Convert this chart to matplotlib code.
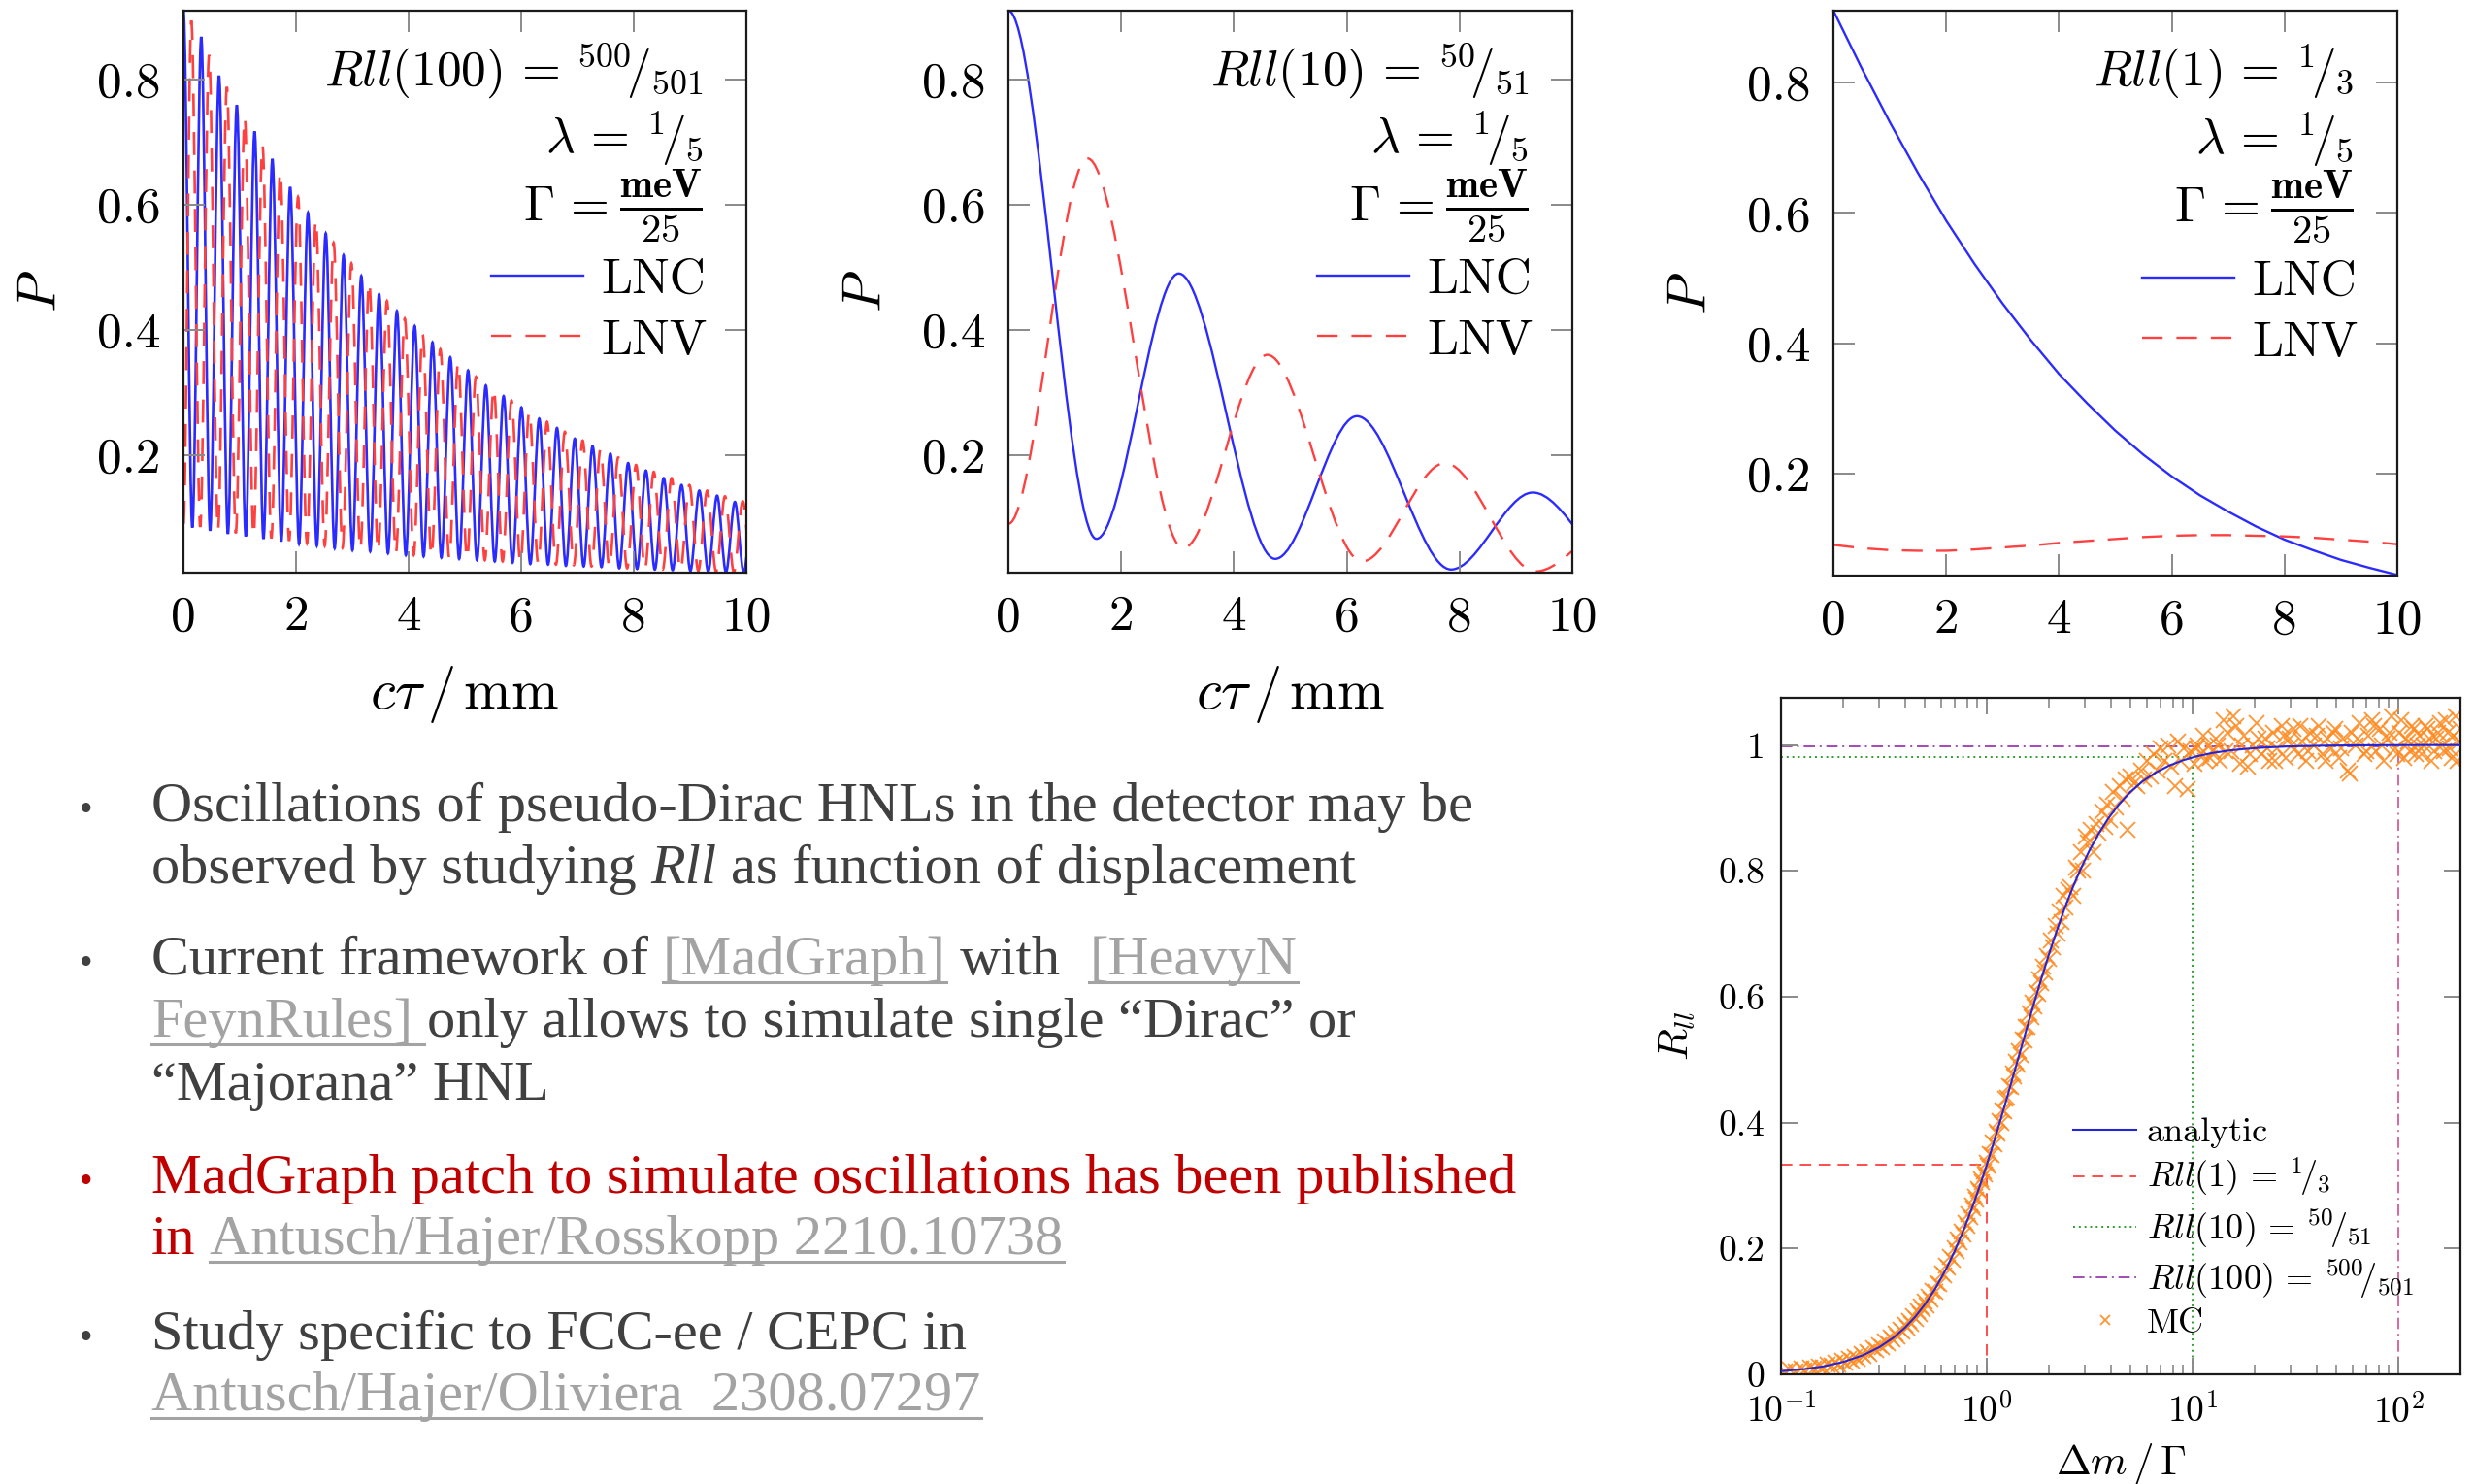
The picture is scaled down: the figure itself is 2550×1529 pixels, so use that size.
import numpy as np
import matplotlib
matplotlib.use('Agg')
import matplotlib.pyplot as plt
from matplotlib.path import Path
from matplotlib.patches import PathPatch
from matplotlib.lines import Line2D

plt.rcParams['mathtext.fontset'] = 'cm'
plt.rcParams['font.family'] = 'cmr10'
plt.rcParams['axes.unicode_minus'] = False
plt.rcParams['axes.formatter.use_mathtext'] = True

# ---- panel 1: R_ll(100), extrema (ct in mm, P) ----
lnc100_pk_x = [0.000, 0.316, 0.632, 0.948, 1.264, 1.580, 1.896, 2.212, 2.528, 2.844, 3.160,
               3.476, 3.792, 4.108, 4.424, 4.740, 5.056, 5.372, 5.688, 6.004, 6.320, 6.636,
               6.952, 7.268, 7.584, 7.900, 8.216, 8.532, 8.848, 9.164, 9.480, 9.796, 10.112]
lnc100_pk_y = [0.910, 0.868, 0.806, 0.759, 0.717, 0.673, 0.628, 0.587, 0.554, 0.519, 0.486,
               0.457, 0.430, 0.406, 0.380, 0.356, 0.335, 0.311, 0.294, 0.276, 0.258, 0.243,
               0.226, 0.214, 0.202, 0.187, 0.175, 0.163, 0.152, 0.143, 0.135, 0.125, 0.118]
lnc100_tr_x = [0.158, 0.474, 0.790, 1.106, 1.422, 1.738, 2.054, 2.370, 2.686, 3.002, 3.318,
               3.634, 3.950, 4.266, 4.582, 4.898, 5.214, 5.530, 5.846, 6.162, 6.478, 6.794,
               7.110, 7.426, 7.742, 8.058, 8.374, 8.690, 9.006, 9.322, 9.638, 9.954]
lnc100_tr_y = [0.084, 0.079, 0.074, 0.070, 0.066, 0.062, 0.058, 0.055, 0.051, 0.048, 0.046,
               0.043, 0.040, 0.038, 0.036, 0.034, 0.032, 0.030, 0.028, 0.026, 0.025, 0.023,
               0.022, 0.021, 0.019, 0.018, 0.017, 0.016, 0.015, 0.014, 0.013, 0.012]
lnv100_pk_x = [0.140, 0.456, 0.772, 1.088, 1.404, 1.720, 2.036, 2.352, 2.668, 2.984, 3.300,
               3.616, 3.932, 4.248, 4.564, 4.880, 5.196, 5.512, 5.828, 6.144, 6.460, 6.776,
               7.092, 7.408, 7.724, 8.040, 8.356, 8.672, 8.988, 9.304, 9.620, 9.936]
lnv100_pk_y = [0.894, 0.839, 0.788, 0.739, 0.695, 0.652, 0.612, 0.575, 0.539, 0.506, 0.476,
               0.446, 0.418, 0.393, 0.369, 0.347, 0.325, 0.306, 0.287, 0.269, 0.253, 0.237,
               0.223, 0.209, 0.196, 0.184, 0.173, 0.163, 0.152, 0.143, 0.134, 0.126]
lnv100_tr_x = [0.000, 0.298, 0.614, 0.930, 1.246, 1.562, 1.878, 2.194, 2.510, 2.826, 3.142,
               3.458, 3.774, 4.090, 4.406, 4.722, 5.038, 5.354, 5.670, 5.986, 6.302, 6.618,
               6.934, 7.250, 7.566, 7.882, 8.198, 8.514, 8.830, 9.146, 9.462, 9.778, 10.094]
lnv100_tr_y = [0.090, 0.085, 0.080, 0.075, 0.071, 0.067, 0.063, 0.059, 0.055, 0.052, 0.049,
               0.046, 0.043, 0.040, 0.038, 0.036, 0.034, 0.032, 0.030, 0.028, 0.027, 0.025,
               0.024, 0.022, 0.021, 0.019, 0.018, 0.017, 0.016, 0.015, 0.014, 0.013, 0.012]

# ---- panel 2: R_ll(10), extrema ----
lnc10_x = [0.0, 1.56, 3.02, 4.73, 6.18, 7.85, 9.30, 10.95]
lnc10_y = [0.910, 0.066, 0.490, 0.034, 0.262, 0.017, 0.140, 0.009]
lnv10_x = [0.0, 1.40, 3.10, 4.59, 6.27, 7.74, 9.35, 10.90]
lnv10_y = [0.090, 0.674, 0.051, 0.360, 0.030, 0.187, 0.014, 0.100]

# ---- panel 3: R_ll(1), sampled curves ----
ct1 = [0.0, 0.5, 1.0, 1.5, 2.0, 2.5, 3.0, 3.5, 4.0, 4.5, 5.0,
       5.5, 6.0, 6.5, 7.0, 7.5, 8.0, 8.5, 9.0, 9.5, 10.0]
lnc1 = [0.910, 0.822, 0.739, 0.661, 0.588, 0.522, 0.461, 0.405, 0.353, 0.308, 0.266,
        0.229, 0.196, 0.167, 0.142, 0.119, 0.099, 0.083, 0.068, 0.056, 0.045]
lnv1 = [0.091, 0.086, 0.083, 0.082, 0.082, 0.084, 0.087, 0.090, 0.094, 0.097, 0.100,
        0.103, 0.105, 0.106, 0.106, 0.105, 0.104, 0.102, 0.099, 0.096, 0.092]

# ---- panel 4: R_ll vs dm/Gamma ----
ana_x = [0.1, 0.13, 0.16, 0.2, 0.25, 0.3, 0.35, 0.4, 0.45, 0.5, 0.56, 0.63, 0.7, 0.78,
         0.86, 0.94, 1.0, 1.08, 1.17, 1.26, 1.36, 1.46, 1.58, 1.7, 1.84, 2.0, 2.18, 2.38,
         2.6, 2.85, 3.15, 3.5, 3.9, 4.4, 5.0, 5.7, 6.6, 7.7, 9.0, 10.5, 12.5, 15, 18, 22,
         28, 36, 46, 60, 80, 110, 150, 200]
ana_y = [0.005, 0.0084, 0.0126, 0.0196, 0.0303, 0.0431, 0.0577, 0.0741, 0.0919, 0.1111,
         0.1355, 0.1656, 0.1968, 0.2332, 0.2700, 0.3064, 0.3333, 0.3684, 0.4063, 0.4425,
         0.4805, 0.5159, 0.5552, 0.5910, 0.6286, 0.6667, 0.7038, 0.7391, 0.7717, 0.8024,
         0.8323, 0.8596, 0.8838, 0.9064, 0.9259, 0.9420, 0.9561, 0.9674, 0.9759, 0.9822,
         0.9874, 0.9912, 0.9939, 0.9959, 0.9975, 0.9985, 0.9991, 0.9994, 0.9997, 0.9998,
         0.9999, 1.0]
mc_x = [0.105, 0.11, 0.118, 0.125, 0.13, 0.138, 0.145, 0.152, 0.16, 0.168, 0.175, 0.183,
        0.19, 0.198, 0.205, 0.213, 0.22, 0.228, 0.236, 0.245, 0.253, 0.262, 0.27, 0.28,
        0.29, 0.30, 0.31, 0.32, 0.33, 0.34, 0.35, 0.36, 0.37, 0.38, 0.39, 0.40, 0.41, 0.42,
        0.43, 0.44, 0.45, 0.46, 0.47, 0.48, 0.49, 0.50, 0.51, 0.52, 0.53, 0.545, 0.56,
        0.575, 0.59, 0.605, 0.62, 0.635, 0.65, 0.665, 0.68, 0.695, 0.71, 0.725, 0.74,
        0.755, 0.77, 0.785, 0.80, 0.815, 0.83, 0.845, 0.86, 0.875, 0.89, 0.905, 0.92,
        0.935, 0.95, 0.965, 0.98, 0.995, 1.01, 1.03, 1.05, 1.07, 1.09, 1.11, 1.13, 1.15,
        1.17, 1.19, 1.21, 1.235, 1.26, 1.285, 1.31, 1.335, 1.36, 1.385, 1.41, 1.435, 1.46,
        1.49, 1.52, 1.55, 1.58, 1.61, 1.64, 1.67, 1.70, 1.735, 1.77, 1.805, 1.84, 1.88,
        1.92, 1.96, 2.00, 2.05, 2.10, 2.15, 2.20, 2.25, 2.30, 2.36, 2.42, 2.48, 2.55, 2.62,
        2.70, 2.78, 2.86, 2.94, 3.02, 3.10, 3.20, 3.30, 3.40, 3.50, 3.62, 3.74, 3.86, 3.98,
        4.10, 4.25, 4.40, 4.55, 4.70, 4.85, 5.0, 5.2, 5.4, 5.6, 5.8, 6.0, 6.25, 6.5, 6.75,
        7.0, 7.3, 7.6, 7.9, 8.2, 8.5, 8.8, 9.1, 9.5, 9.8, 10.2, 10.6, 11.0, 11.5, 12.0,
        12.5, 13.0, 13.6, 14.2, 14.8, 15.5, 16.2, 17.0, 17.8, 18.6, 19.5, 20.5, 21.5, 22.5,
        23.5, 24.6, 25.8, 27.0, 28.3, 29.6, 31.0, 32.5, 34.0, 35.6, 37.3, 39.0, 41.0, 43.0,
        45.0, 47.0, 49.3, 51.6, 54.0, 56.5, 59.0, 62.0, 65.0, 68.0, 71.0, 74.5, 78.0, 81.5,
        85.0, 89.0, 93.0, 97.0, 101, 106, 111, 116, 121, 127, 133, 139, 145, 152, 159, 166,
        174, 182, 190, 198, 10.4, 11.2, 12.2, 13.3, 14.5, 15.8, 17.4, 19.0, 21.0, 23.0,
        25.2, 27.6, 30.3, 33.2, 36.4, 40.0, 44.0, 48.0, 52.8, 58.0, 63.5, 69.5, 76.0, 83.0,
        91.0, 99.0, 103.5, 108.5, 113.5, 118.5, 124, 130, 136, 142, 148.5, 155.5, 162.5,
        170, 178, 186, 194, 200]
mc_y = [0.004, 0.008, 0.005, 0.009, 0.006, 0.011, 0.009, 0.013, 0.011, 0.016, 0.014, 0.019,
        0.016, 0.022, 0.019, 0.025, 0.022, 0.028, 0.025, 0.032, 0.029, 0.036, 0.033, 0.041,
        0.038, 0.047, 0.043, 0.052, 0.049, 0.058, 0.055, 0.065, 0.060, 0.071, 0.068, 0.079,
        0.074, 0.085, 0.080, 0.092, 0.088, 0.100, 0.095, 0.108, 0.104, 0.116, 0.110, 0.124,
        0.119, 0.133, 0.131, 0.145, 0.143, 0.160, 0.157, 0.172, 0.170, 0.187, 0.182, 0.200,
        0.196, 0.214, 0.209, 0.226, 0.222, 0.240, 0.236, 0.254, 0.250, 0.268, 0.264, 0.282,
        0.278, 0.295, 0.291, 0.310, 0.306, 0.322, 0.318, 0.336, 0.332, 0.350, 0.349, 0.368,
        0.366, 0.386, 0.383, 0.403, 0.400, 0.420, 0.418, 0.438, 0.440, 0.458, 0.457, 0.478,
        0.474, 0.496, 0.492, 0.514, 0.508, 0.532, 0.530, 0.552, 0.552, 0.573, 0.568, 0.590,
        0.585, 0.608, 0.605, 0.628, 0.622, 0.648, 0.638, 0.664, 0.660, 0.690, 0.678, 0.712,
        0.700, 0.735, 0.718, 0.760, 0.742, 0.770, 0.775, 0.760, 0.805, 0.800, 0.830, 0.800,
        0.855, 0.845, 0.865, 0.830, 0.875, 0.860, 0.895, 0.870, 0.905, 0.880, 0.925, 0.900,
        0.935, 0.915, 0.945, 0.865, 0.950, 0.940, 0.935, 0.960, 0.945, 0.975, 0.950, 0.985,
        0.960, 0.995, 0.975, 1.000, 0.965, 0.935, 1.005, 0.975, 0.995, 0.930, 0.990, 0.970,
        1.000, 0.985, 0.975, 1.000, 0.990, 1.010, 0.975, 1.040, 1.020, 0.990, 1.030, 0.970,
        1.015, 0.965, 1.000, 1.035, 0.985, 1.010, 0.975, 1.020, 0.995, 1.030, 0.980, 1.010,
        1.025, 0.985, 1.005, 0.975, 1.020, 1.000, 1.030, 0.985, 1.010, 0.995, 1.025, 0.980,
        1.010, 0.960, 1.020, 1.000, 1.035, 0.985, 1.015, 1.040, 0.990, 1.025, 0.975, 1.010,
        1.045, 0.995, 1.020, 0.980, 1.005, 1.030, 0.985, 1.015, 1.000, 1.025, 0.975, 1.010,
        1.035, 0.990, 1.020, 0.980, 1.045, 1.005, 0.995, 1.015, 0.980, 1.000, 0.990, 1.045,
        1.000, 0.985, 1.010, 0.995, 0.975, 1.015, 1.000, 1.030, 0.990, 1.015, 0.975, 1.020,
        0.995, 0.955, 1.010, 0.990, 1.030, 1.000, 1.020, 0.985, 1.040, 1.010, 0.990, 1.025,
        1.000, 0.985, 1.030, 1.010, 0.990, 1.020, 1.000, 1.040, 0.995, 1.015, 0.975, 1.025]
ref_x = [1, 10, 100]
ref_y = [1 / 3, 50 / 51, 500 / 501]

W, H = 2550, 1529
BLUE = '#2b2bff'
RED = '#ff4040'
fig = plt.figure(figsize=(W / 100, H / 100), dpi=100)
renderer = fig.canvas.get_renderer()


def add_ax(l, t, r, b):
    """Axes from pixel box (left, top, right, bottom)."""
    return fig.add_axes([l / W, 1 - b / H, (r - l) / W, (b - t) / H])


def style(ax, size, length, pad):
    ax.tick_params(direction='in', top=True, right=True, length=length, width=1.4,
                   color='#8a8a8a', labelsize=size, pad=pad)
    for s in ax.spines.values():
        s.set_linewidth(1.6)
        s.set_color('#1a1a1a')


def smooth_curve(ax, xs, ys, **kw):
    """Smooth path through extrema, flat tangent at each one."""
    order = np.argsort(xs)
    xs = np.asarray(xs, float)[order]
    ys = np.asarray(ys, float)[order]
    verts = [(xs[0], ys[0])]
    codes = [Path.MOVETO]
    for i in range(1, len(xs)):
        d = (xs[i] - xs[i - 1]) / 3
        verts += [(xs[i - 1] + d, ys[i - 1]), (xs[i] - d, ys[i]), (xs[i], ys[i])]
        codes += [Path.CURVE4] * 3
    ax.add_patch(PathPatch(Path(verts, codes), fill=False, **kw))


dash = (0, (9, 6))
tops = [(189, 11, 769, 590), (1039, 11, 1620, 590), (1889, 11, 2470, 593)]
notes = [r'$Rll(100)\,=\,{}^{500}\!/_{501}$', r'$Rll(10)\,=\,{}^{50}\!/_{51}$',
         r'$Rll(1)\,=\,{}^{1}\!/_{3}$']
ylims = [(0.012, 0.91), (0.012, 0.91), (0.044, 0.91)]

for i, box in enumerate(tops):
    ax = add_ax(*box)
    lw = 1.9 if i == 0 else 1.7
    if i == 0:
        smooth_curve(ax, lnc100_pk_x + lnc100_tr_x, lnc100_pk_y + lnc100_tr_y,
                     edgecolor=BLUE, lw=lw)
        smooth_curve(ax, lnv100_pk_x + lnv100_tr_x, lnv100_pk_y + lnv100_tr_y,
                     edgecolor=RED, lw=lw, linestyle=dash)
    elif i == 1:
        smooth_curve(ax, lnc10_x, lnc10_y, edgecolor=BLUE, lw=lw)
        smooth_curve(ax, lnv10_x, lnv10_y, edgecolor=RED, lw=lw, linestyle=dash)
    else:
        ax.plot(ct1, lnc1, color=BLUE, lw=lw)
        ax.plot(ct1, lnv1, color=RED, lw=lw, linestyle=dash)
    ax.set_xlim(0, 10)
    ax.set_ylim(*ylims[i])
    ax.set_xticks([0, 2, 4, 6, 8, 10])
    ax.set_xticklabels(['0', '2', '4', '6', '8', '10'])
    ax.set_yticks([0.2, 0.4, 0.6, 0.8])
    ax.set_yticklabels(['0.2', '0.4', '0.6', '0.8'])
    style(ax, 37, 16, 17)
    if i < 2:
        ax.set_xlabel(r'$c\tau\,/\,\mathrm{mm}$', fontsize=42)
        ax.xaxis.label.set_va('center')
        ax.xaxis.set_label_coords(0.5, -0.216)
    ax.set_ylabel(r'$P$', fontsize=40)
    ax.yaxis.label.set_va('center')
    ax.yaxis.set_label_coords(-0.25, 0.5)
    ax.text(0.923, 0.893, notes[i], transform=ax.transAxes, ha='right', va='center',
            fontsize=37)
    ax.text(0.923, 0.772, r'$\lambda\,=\,{}^{1}\!/_{5}$', transform=ax.transAxes,
            ha='right', va='center', fontsize=37)
    # Gamma row: fraction drawn a bit larger, then "Gamma =" to its left
    frac = ax.text(0.923, 0.652, r'$\frac{\mathbf{meV}}{\mathbf{25}}$',
                   transform=ax.transAxes, ha='right', va='center', fontsize=42)
    fb = frac.get_window_extent(renderer)
    gx = ax.transAxes.inverted().transform((fb.x0 - 12, 0))[0]
    ax.text(gx, 0.650, r'$\mathit{\Gamma}\,=$', transform=ax.transAxes, ha='right',
            va='center', fontsize=37)
    hs = [Line2D([], [], color=BLUE, lw=1.7), Line2D([], [], color=RED, lw=1.7, ls=dash)]
    ax.legend(hs, ['LNC', 'LNV'], loc='center right', bbox_to_anchor=(0.93, 0.466),
              frameon=False, fontsize=37, handlelength=1.85, handletextpad=0.35,
              labelspacing=0.32, borderpad=0, borderaxespad=0)

# ---- bottom right panel ----
ax = add_ax(1835, 719, 2535, 1416)
cols = ['#ff4d4d', '#2e9e2e', '#a24bb4']
vcols = ['#ff4d4d', '#2e9e2e', '#d8689a']
styles = [(0, (6, 4)), (0, (1, 2)), (0, (6, 2.5, 1, 2.5))]
ref_handles = []
for rx, ry, c, vc, ls in zip(ref_x, ref_y, cols, vcols, styles):
    h, = ax.plot([0.1, rx], [ry, ry], color=c, lw=1.4, ls=ls, zorder=1)
    ax.plot([rx, rx], [0, ry], color=vc, lw=1.4, ls=ls, zorder=1)
    ref_handles.append(h)
mc, = ax.plot(mc_x, mc_y, ls='none', marker='x', ms=11, mew=1.3, color='#ff8a1f',
              alpha=0.9, zorder=2)
ana, = ax.plot(ana_x, ana_y, color='#2525d8', lw=1.5, zorder=3)
ax.set_xscale('log')
ax.set_xlim(0.1, 200)
ax.set_ylim(0, 1.075)
ax.set_xticks([0.1, 1, 10, 100])
ax.set_xticklabels([r'$10^{-1}$', r'$10^{0}$', r'$10^{1}$', r'$10^{2}$'])
ax.set_yticks([0, 0.2, 0.4, 0.6, 0.8, 1])
ax.set_yticklabels(['0', '0.2', '0.4', '0.6', '0.8', '1'])
style(ax, 27, 12, 12)
ax.tick_params(axis='x', pad=14)
ax.tick_params(which='minor', direction='in', top=True, length=7, width=1.2,
               color='#8a8a8a')
ax.set_xlabel(r'$\mathit{\Delta} m\,/\,\mathit{\Gamma}$', fontsize=31)
ax.xaxis.label.set_va('center')
ax.xaxis.set_label_coords(0.5, -0.133)
ax.set_ylabel(r'$R_{ll}$', fontsize=31)
ax.yaxis.label.set_va('center')
ax.yaxis.set_label_coords(-0.153, 0.5)
ax.legend([ana] + ref_handles + [mc],
          ['analytic', r'$Rll(1)\,=\,{}^{1}\!/_{3}$', r'$Rll(10)\,=\,{}^{50}\!/_{51}$',
           r'$Rll(100)\,=\,{}^{500}\!/_{501}$', 'MC'],
          loc='upper left', bbox_to_anchor=(0.43, 0.38), frameon=False, fontsize=26,
          handlelength=1.8, handletextpad=0.3, labelspacing=0.22, borderpad=0,
          borderaxespad=0, markerscale=0.7)

# ---- bullet text ----
DARK = '#404040'
LINK = '#a3a3a3'
TRED = '#c00000'
SIZE = 42
SP = SIZE * 100 / 72 * 0.25


def write_line(x, y, parts):
    for text, color, italic, link, gap in parts:
        x += gap * SP
        t = fig.text(x / W, 1 - y / H, text, fontsize=SIZE, color=color,
                     family='Liberation Serif', style='italic' if italic else 'normal',
                     ha='left', va='baseline')
        bb = t.get_window_extent(renderer)
        if link:
            uy = 1 - (y + 8) / H
            fig.add_artist(Line2D([bb.x0 / W, (bb.x1 + link) / W], [uy, uy],
                                  transform=fig.transFigure, color=LINK, lw=2.2))
        x = bb.x1


def bullet(y, color):
    fig.text(89 / W, 1 - y / H, '\u2022', fontsize=28, color=color,
             family='Liberation Serif', ha='center', va='baseline')


bullet(846, DARK)
write_line(156, 846, [('Oscillations of pseudo-Dirac HNLs in the detector may be', DARK, False, 0, 0)])
write_line(156, 910, [('observed by studying', DARK, False, 0, 0), ('Rll', DARK, True, 0, 1),
                      ('as function of displacement', DARK, False, 0, 1)])
bullet(1004, DARK)
write_line(156, 1004, [('Current framework of', DARK, False, 0, 0),
                       ('[MadGraph]', LINK, False, 1, 1), ('with', DARK, False, 0, 1),
                       ('[HeavyN', LINK, False, 1, 2)])
write_line(156, 1068, [('FeynRules]', LINK, False, 12, 0),
                       ('only allows to simulate single \u201cDirac\u201d or', DARK, False, 0, 1)])
write_line(156, 1133, [('\u201cMajorana\u201d HNL', DARK, False, 0, 0)])
bullet(1229, TRED)
write_line(156, 1229, [('MadGraph patch to simulate oscillations has been published', TRED, False, 0, 0)])
write_line(156, 1292, [('in', TRED, False, 0, 0),
                       ('Antusch/Hajer/Rosskopp 2210.10738', LINK, False, 1, 1)])
bullet(1390, DARK)
write_line(156, 1390, [('Study specific to FCC-ee / CEPC in', DARK, False, 0, 0)])
write_line(156, 1453, [('Antusch/Hajer/Oliviera  2308.07297', LINK, False, 1, 0)])

fig.savefig('out.png', dpi=100)
